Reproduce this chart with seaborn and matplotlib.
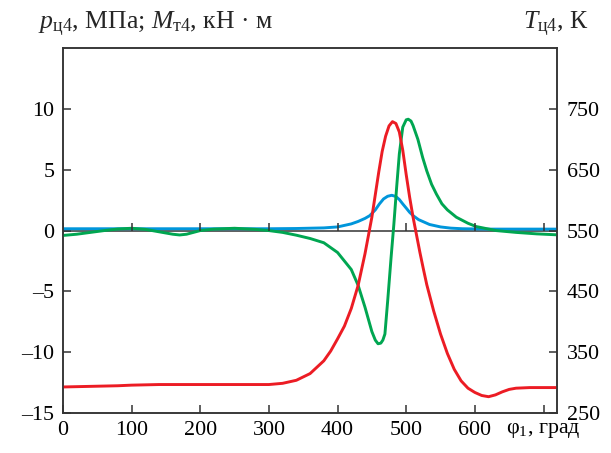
import matplotlib
matplotlib.use("Agg")
import matplotlib.pyplot as plt
from matplotlib.markers import TICKUP
import seaborn as sns

# ---- data ----
phi_T = [0, 40, 80, 100, 140, 200, 250, 300, 320, 340, 360, 380, 390, 400, 410, 420,
         430, 440, 450, 455, 460, 465, 470, 475, 480, 485, 490, 495, 500, 505, 510,
         515, 520, 525, 530, 540, 550, 560, 570, 580, 590, 600, 610, 620, 630, 640,
         650, 660, 680, 700, 720]
T_c4 = [293, 294, 295, 296, 297, 297, 297, 297, 299, 304, 315, 336, 352, 372, 393, 422,
        460, 512, 572, 609, 646, 680, 705, 722, 729, 726, 712, 682, 642, 605, 572,
        543, 514, 487, 461, 418, 380, 348, 322, 303, 291, 284, 279, 277, 280, 285,
        289, 291, 292, 292, 292]

phi_M = [0, 20, 40, 60, 80, 100, 120, 140, 160, 170, 180, 200, 220, 250, 280, 300,
         320, 340, 360, 380, 400, 420, 430, 440, 445, 450, 455, 459, 463, 466, 469,
         473, 478, 482, 486, 490, 495, 500, 503, 507, 510, 517, 524, 530, 537, 544,
         552, 560, 573, 590, 602, 631, 660, 690, 720]
M_t4 = [-0.4, -0.3, -0.15, 0.0, 0.13, 0.19, 0.1, -0.1, -0.3, -0.36, -0.3, 0.0, 0.12,
        0.19, 0.1, 0.0, -0.15, -0.38, -0.65, -1.0, -1.8, -3.2, -4.5, -6.3, -7.3, -8.3,
        -9.0, -9.3, -9.25, -9.0, -8.5, -5.8, -2.2, 0.5, 3.5, 6.3, 8.5, 9.1, 9.15, 9.0,
        8.63, 7.5, 6.0, 4.9, 3.8, 3.0, 2.2, 1.7, 1.1, 0.6, 0.33, 0.0, -0.15, -0.27,
        -0.35]

phi_p = [0, 100, 200, 300, 340, 380, 400, 420, 430, 440, 447, 455, 461, 467, 473, 479,
         485, 490, 495, 500, 505, 510, 518, 526, 534, 550, 565, 582, 620, 720]
p_c4 = [0.15, 0.15, 0.15, 0.15, 0.17, 0.22, 0.3, 0.55, 0.75, 1.0, 1.23, 1.7, 2.19,
        2.6, 2.82, 2.9, 2.8, 2.55, 2.19, 1.85, 1.5, 1.23, 0.9, 0.7, 0.5, 0.3, 0.2,
        0.15, 0.12, 0.12]

x_ticks = [0, 100, 200, 300, 400, 500, 600, 700]
x_labels = ["0", "100", "200", "300", "400", "500", "600", r"$\mathrm{φ}_1$, град"]
yl_ticks = [-15, -10, -5, 0, 5, 10]
yl_labels = ["–15", "–10", "–5", "0", "5", "10"]
yr_ticks = [250, 350, 450, 550, 650, 750]

RED = "#ec1c24"
GREEN = "#00a651"
BLUE = "#0096db"
AX_C = "#333333"

sns.set_theme(style="ticks", rc={
    "xtick.direction": "in", "ytick.direction": "in",
    "xtick.major.size": 5.5, "ytick.major.size": 5.5,
    "xtick.major.width": 1.1, "ytick.major.width": 1.1,
    "xtick.color": AX_C, "ytick.color": AX_C,
    "xtick.labelcolor": "black", "ytick.labelcolor": "black",
    "axes.edgecolor": AX_C, "axes.linewidth": 1.1,
})
plt.rcParams["font.family"] = ["Liberation Serif", "DejaVu Serif"]
plt.rcParams["mathtext.fontset"] = "custom"
plt.rcParams["mathtext.rm"] = "Liberation Serif"
plt.rcParams["mathtext.it"] = "Liberation Serif:italic"
plt.rcParams["mathtext.bf"] = "Liberation Serif:bold"

FS = 15.8
FSL = 18.5
fig = plt.figure(figsize=(6.11, 4.53), dpi=100)
ax = fig.add_axes([0.103, 0.088, 0.809, 0.806])
ax2 = ax.twinx()

# zero line with upward ticks
ax.axhline(0, color=AX_C, linewidth=1.1, zorder=2)
ax.plot(x_ticks, [0] * len(x_ticks), linestyle="none", marker=TICKUP,
        markersize=5.5, markeredgewidth=1.1, color=AX_C, zorder=5)

sns.lineplot(x=phi_p, y=p_c4, ax=ax, color=BLUE, linewidth=2.1, zorder=3)
sns.lineplot(x=phi_M, y=M_t4, ax=ax, color=GREEN, linewidth=2.1, zorder=4)
sns.lineplot(x=phi_T, y=T_c4, ax=ax2, color=RED, linewidth=2.1)

ax.set_xlim(0, 720)
ax.set_ylim(-15, 15)
ax2.set_ylim(250, 850)

ax.set_xticks(x_ticks)
ax.set_xticklabels(x_labels)
ax.set_yticks(yl_ticks)
ax.set_yticklabels(yl_labels)
ax2.set_yticks(yr_ticks)
ax2.set_yticklabels([str(v) for v in yr_ticks])
ax.set_xlabel("")
ax.set_ylabel("")
ax2.set_ylabel("")

for a in (ax, ax2):
    for s in a.spines.values():
        s.set_visible(True)
ax.tick_params(axis="both", labelsize=FS, pad=6, bottom=True, left=True,
               top=False, right=False)
ax2.tick_params(axis="y", labelsize=FS, pad=7, right=True, left=False)

fig.text(0.063, 0.945,
         r"$p_{\mathrm{ц4}}$, МПа; $M_{\mathrm{т4}}$, кН · м",
         fontsize=FSL, ha="left", va="center")
fig.text(0.963, 0.945, r"$T_{\mathrm{ц4}}$, К", fontsize=FSL, ha="right", va="center")

fig.savefig("out.png", dpi=100)
